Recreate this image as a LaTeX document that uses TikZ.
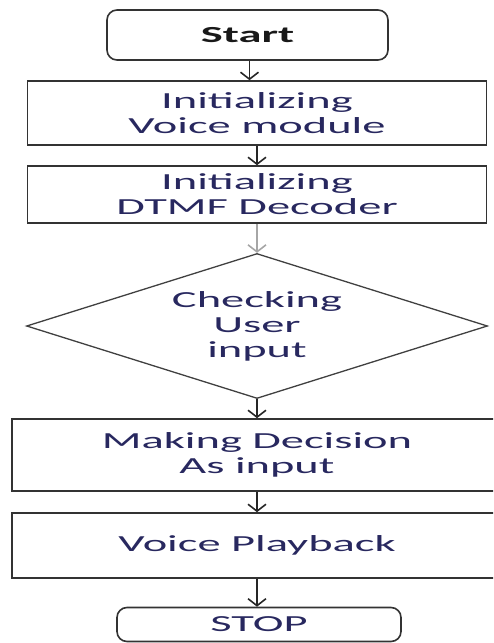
\documentclass[tikz,border=0pt]{standalone}
\usepackage{fontspec}
\usepackage{tikz}
\usetikzlibrary{shapes.geometric,arrows.meta}
\newfontfamily\flowfont[FakeStretch=2.02]{Carlito}
\definecolor{flowtext}{RGB}{40,40,95}

\begin{document}
\begin{tikzpicture}[x=1pt,y=-1pt,
  box/.style={draw=black!80,line width=1.6pt,inner sep=0pt,align=center,
    text=flowtext,font=\flowfont\fontsize{23}{25}\selectfont},
  terminal/.style={box,rounded corners=10pt},
  process/.style={box,minimum width=459pt},
  decision/.style={box,diamond,aspect=3.2,line width=1.3pt,draw=black!75,
    minimum width=461pt,minimum height=145pt},
  flow/.style={-{Straight Barb[length=7pt,width=18pt]},line width=1.6pt,draw=black!85}]
% page frame
\useasboundingbox (0,0) rectangle (493,643);
\clip (0,0) rectangle (493,643);

% Start and stop
\node[terminal,minimum width=281pt,minimum height=50pt,text=black!90,
  font=\flowfont\bfseries\fontsize{23}{25}\selectfont] (start) at (247.5,35) {Start};
\node[terminal,minimum width=284pt,minimum height=34pt] (stop) at (259,624.5) {STOP};

% Steps
\node[process,minimum height=64pt] (init) at (257,113) {Initializing\\Voice module};
\node[process,minimum height=57pt] (dtmf) at (257,194.5) {Initializing\\DTMF Decoder};
\node[decision] (check) at (257,326) {Checking\\User\\input};
\node[process,minimum width=490pt,minimum height=72pt] (decide) at (257,455) {Making Decision\\As input};
\node[process,minimum width=490pt,minimum height=65pt] (play) at (257,545.5) {Voice Playback};

% Arrows between steps
\draw[flow] ([xshift=2pt]start.south) -- ([xshift=2pt]start.south |- init.north);
\draw[flow] (init) -- (dtmf);
\draw[flow,draw=black!35] (dtmf) -- (check);
\draw[flow] (check) -- (decide);
\draw[flow] (decide) -- (play);
\draw[flow] (play) -- (play |- stop.north);
\end{tikzpicture}
\end{document}
